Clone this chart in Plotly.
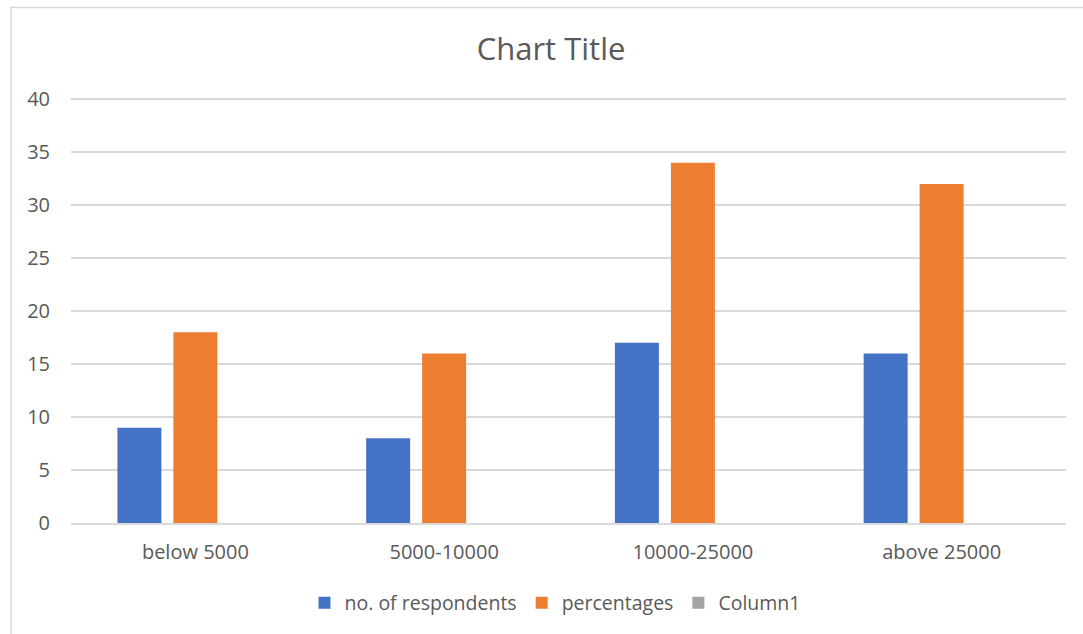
import plotly.graph_objects as go

categories = ["below 5000", "5000-10000", "10000-25000", "above 25000"]
respondents = [9, 8, 17, 16]
percentages = [18, 16, 34, 32]
column1 = [0, 0, 0, 0]
y_ticks = [0, 5, 10, 15, 20, 25, 30, 35, 40]

FONT = "Open Sans"
TXT = "#595959"
GRID = "#D9D9D9"

fig = go.Figure()
fig.add_trace(go.Bar(name="no. of respondents", x=categories, y=respondents,
                     marker=dict(color="#4472C4", line=dict(width=0))))
fig.add_trace(go.Bar(name="percentages", x=categories, y=percentages,
                     marker=dict(color="#ED7D31", line=dict(width=0))))
fig.add_trace(go.Bar(name="Column1", x=categories, y=column1,
                     marker=dict(color="#A5A5A5", line=dict(width=0))))

fig.update_layout(
    width=1083, height=634,
    margin=dict(l=71, r=17, t=97, b=111),
    paper_bgcolor="white", plot_bgcolor="white",
    barmode="group", bargap=0.325, bargroupgap=0.214,
    font=dict(family=FONT, color=TXT, size=20),
    title=dict(text="Chart Title", x=551 / 1083, xanchor="center",
               y=1 - 49 / 634, yanchor="middle",
               font=dict(family=FONT, size=31, color=TXT)),
    showlegend=True,
    legend=dict(orientation="h", x=555 / 1083, xanchor="center",
                xref="container", y=1 - 603 / 634, yref="container",
                yanchor="middle", font=dict(family=FONT, size=19.5, color=TXT),
                itemwidth=30, traceorder="normal"),
    xaxis=dict(showgrid=False, showline=True, linecolor=GRID, linewidth=1.5,
               ticks="", tickfont=dict(family=FONT, size=20, color=TXT),
               ticklabelstandoff=10),
    yaxis=dict(range=[0, 40.2], tickvals=y_ticks, showgrid=True, gridcolor=GRID,
               gridwidth=1.5, zeroline=False, showline=False, ticks="",
               tickfont=dict(family=FONT, size=20, color=TXT), ticklabelstandoff=20),
    shapes=[dict(type="rect", xref="paper", yref="paper",
                 x0=(11 - 71) / 995, x1=1.05, y0=-0.35, y1=(523 - 7.5) / 426,
                 line=dict(color=GRID, width=1.5), fillcolor="rgba(0,0,0,0)",
                 layer="below")],
)

fig.write_html("out.html")
